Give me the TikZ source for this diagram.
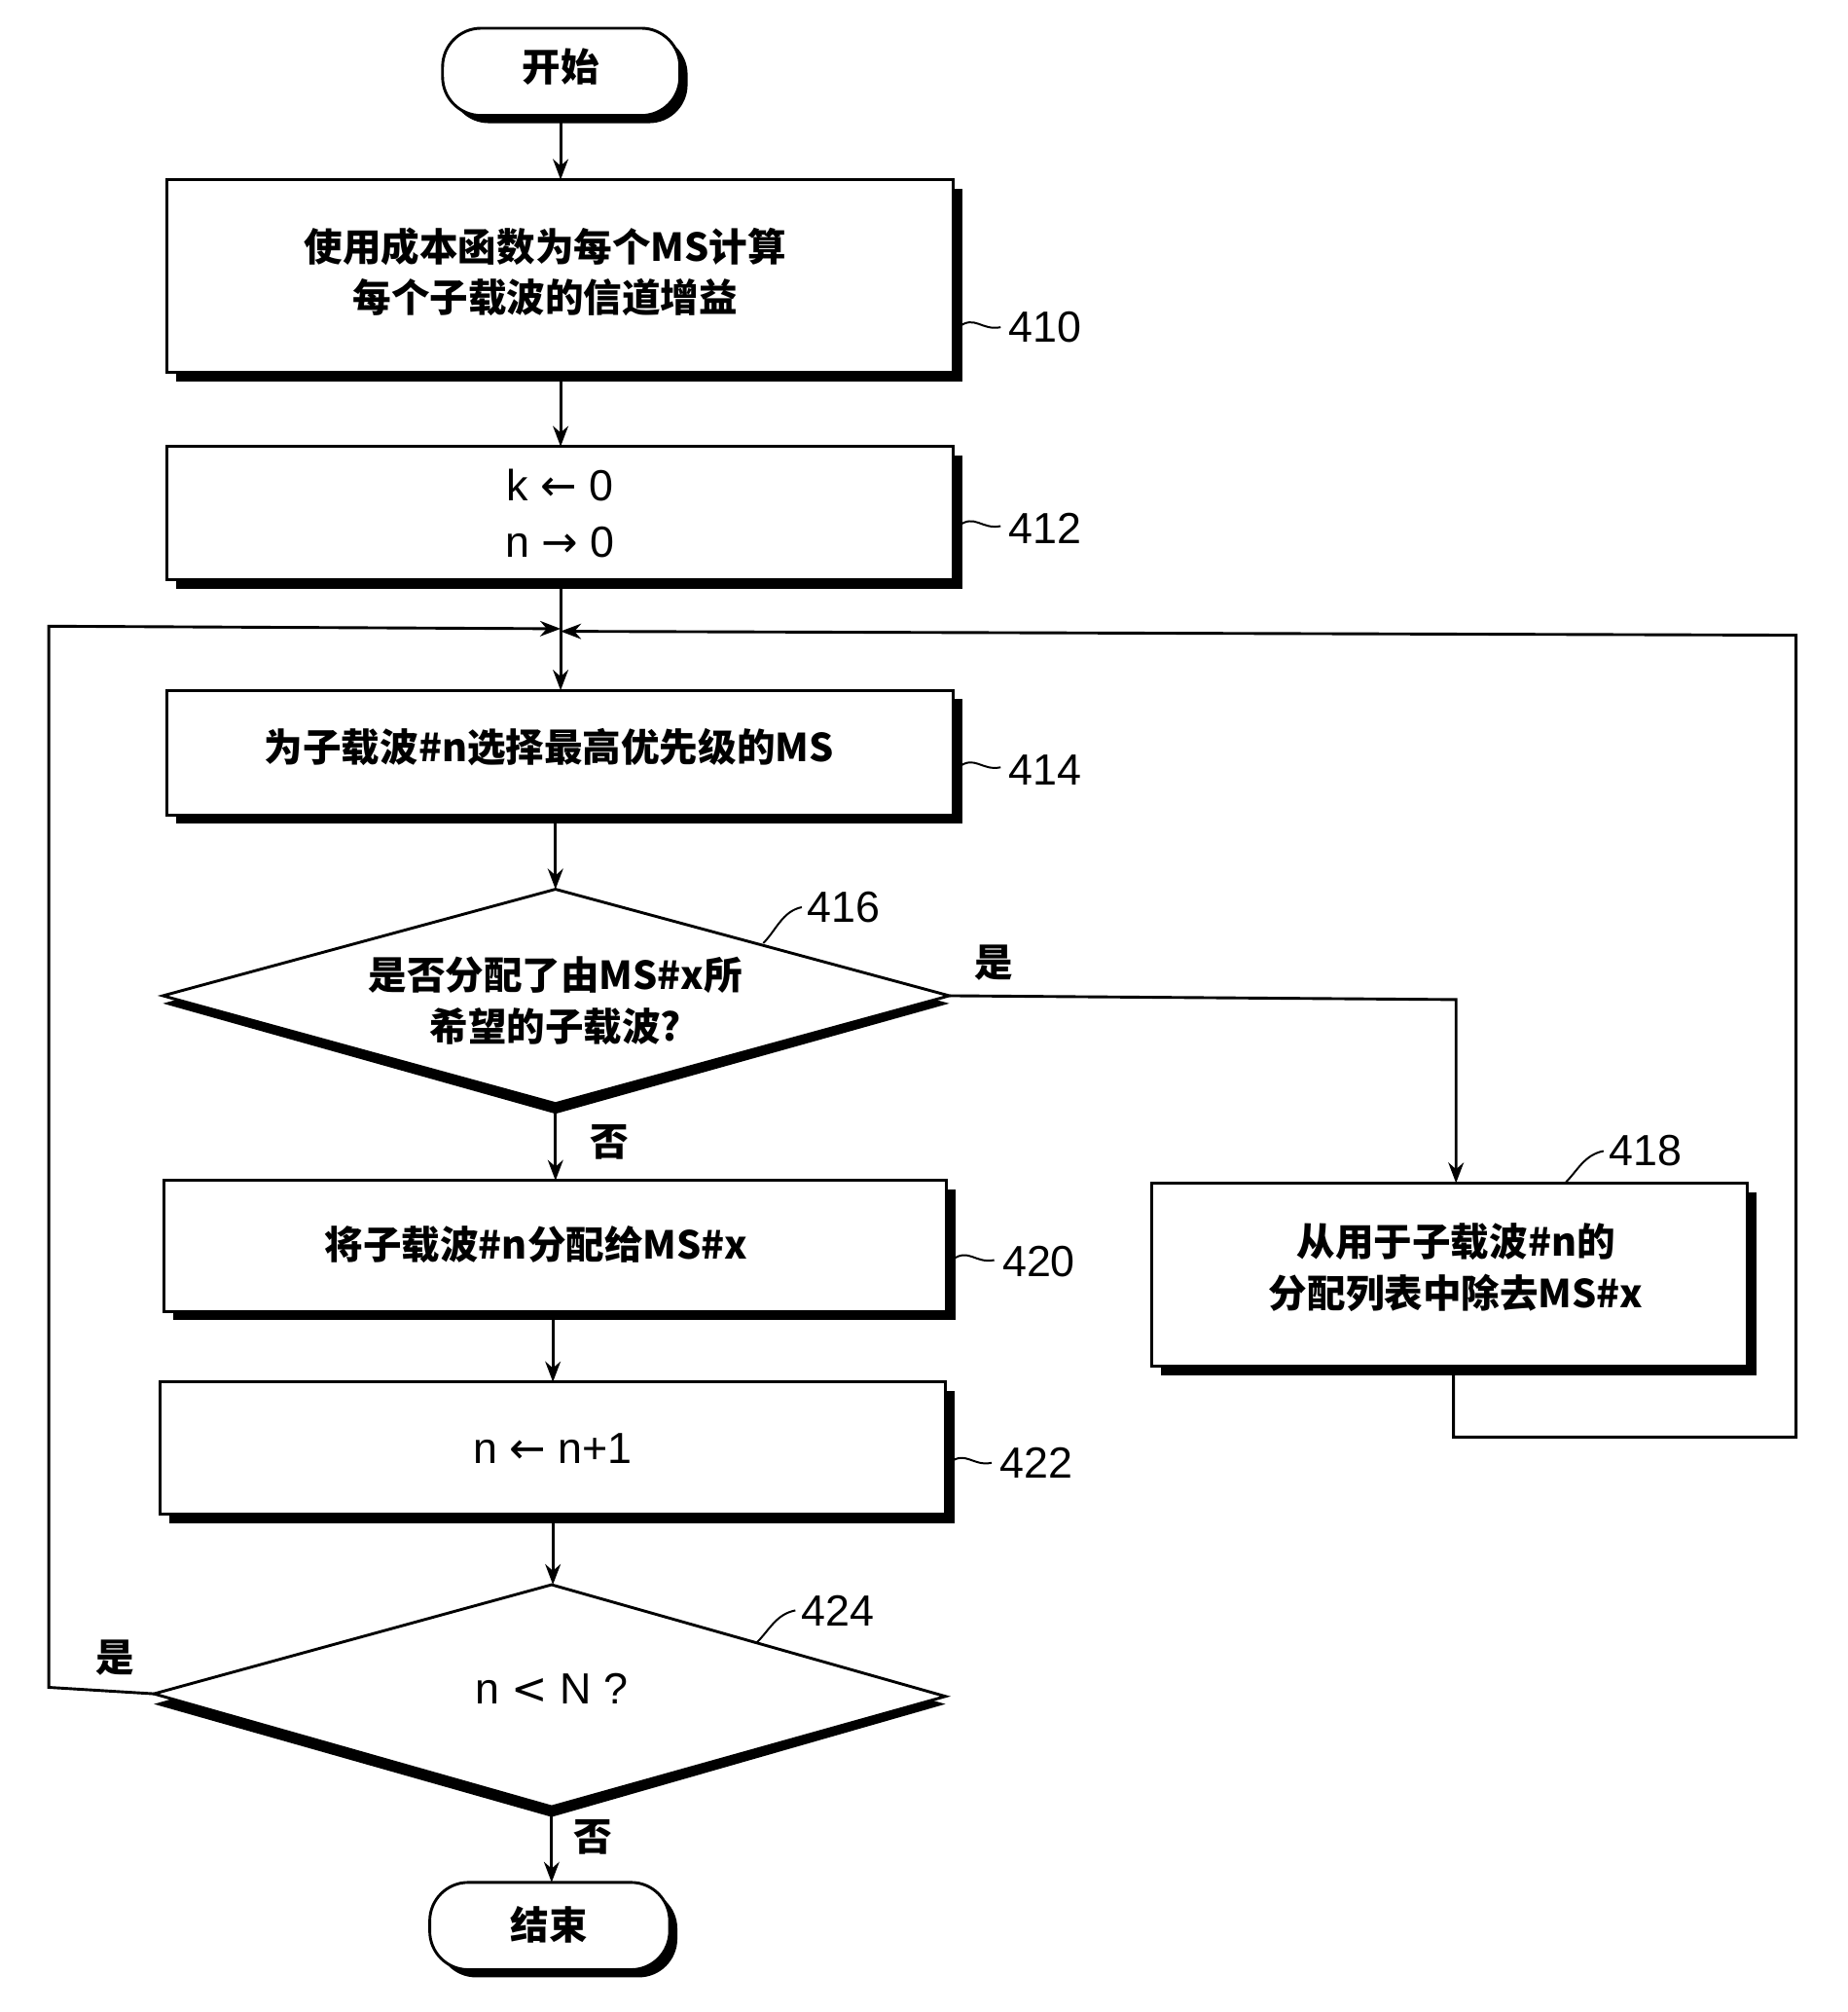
\documentclass[tikz,border=0pt]{standalone}
\usepackage{fontspec}
\setmainfont{Liberation Sans}
\newfontfamily\cjk{Noto Sans CJK SC}
\newfontfamily\symf{DejaVu Sans}
\usetikzlibrary{arrows.meta}
\begin{document}
\begin{tikzpicture}[x=1pt,y=-1pt,
  line width=2.2pt,
  ar/.style={-{Stealth[length=16pt,width=12pt]}},
  txt/.style={font=\cjk\bfseries\fontsize{30}{40}\selectfont,align=center},
  num/.style={font=\fontsize{34}{40}\selectfont},
  sh/.style={fill=black}]
\useasboundingbox (0,0) rectangle (1440,1568);
\newcommand\shbox[5]{% x1 y1 x2 y2 name
  \fill (#1+7,#2+7) rectangle (#3+7,#4+7);
  \draw[fill=white] (#1,#2) rectangle (#3,#4);
  \coordinate (#5) at ({(#1+#3)/2},{(#2+#4)/2});}
% start / end
\fill[rounded corners=30pt] (351,28) rectangle (536,96);
\draw[fill=white,rounded corners=30pt] (345,22) rectangle (530,90);
\node[txt] (start) at (437,52) {开始};
\fill[rounded corners=30pt] (341,1473) rectangle (528,1541);
\draw[fill=white,rounded corners=30pt] (335,1467) rectangle (522,1535);
\node[txt] (end) at (428,1500) {结束};
% boxes
\shbox{130}{140}{743}{290}{b410}
\node[txt] (t410) at (425,212) {使用成本函数为每个MS计算\\每个子载波的信道增益};
\shbox{130}{348}{743}{452}{b412}
\node[font=\fontsize{34}{44}\selectfont,align=center] (t412) at (b412) {k {\symf ←} 0\\n {\symf →} 0};
\shbox{130}{538}{743}{635}{b414}
\node[txt] (t414) at (428,582) {为子载波\#n选择最高优先级的MS};
\shbox{128}{920}{738}{1022}{b420}
\node[txt] (t420) at (418,970) {将子载波\#n分配给MS\#x};
\shbox{125}{1077}{737}{1180}{b422}
\node[font=\fontsize{34}{40}\selectfont] (t422) at (b422) {n {\symf ←} n+1};
\shbox{898}{922}{1362}{1065}{b418}
\node[txt] (t418) at (1135,988) {从用于子载波\#n的\\分配列表中除去MS\#x};
% diamonds
\fill (127,782) -- (433,699) -- (740,782) -- (433,868) -- cycle;
\draw[fill=white] (127,776) coordinate (d416l) -- (433,693) -- (740,776) coordinate (d416r) -- (433,860) coordinate (d416b) -- cycle;
\node[txt] (t416) at (433,780) {是否分配了由MS\#x所\\希望的子载波?};
\fill (120,1328) -- (430,1241) -- (737,1328) -- (430,1416) -- cycle;
\draw[fill=white] (120,1320) coordinate (d424l) -- (430,1235) coordinate (d424t) -- (737,1322) -- (430,1408) coordinate (d424b) -- cycle;
\node[font=\fontsize{34}{40}\selectfont] (t424) at (430,1316) {n {\symf <} N ?};
% junction
\coordinate (j) at (437,490);
\draw[ar] (437,90) -- (437,140);
\draw[ar] (437,297) -- (437,348);
\draw (437,459) -- (j);
\draw[ar] (j) -- (437,538);
\draw[ar] (433,642) -- (433,693);
\draw[ar] (433,862) -- (433,920);
\draw[ar] (431,1029) -- (431,1077);
\draw[ar] (431,1187) -- (431,1235);
\draw[ar] (430,1410) -- (430,1467);
\draw[ar] (d416r) -- (1135,779) -- (1135,922);
\draw[ar] (1133,1072) -- (1133,1120) -- (1400,1120) -- (1400,495) -- (437,492);
\draw[ar] (d424l) -- (38,1315) -- (38,488) -- (437,490);
% labels
\node[txt] at (475,890) {否};
\node[txt] at (775,750) {是};
\node[txt] at (90,1292) {是};
\node[txt] at (462,1432) {否};
\draw[line width=1.5pt] (747,255) .. controls (760,245) and (765,258) .. (780,255);
\node[num,anchor=west] at (782,255) {410};
\draw[line width=1.5pt] (747,410) .. controls (760,400) and (765,413) .. (780,410);
\node[num,anchor=west] at (782,412) {412};
\draw[line width=1.5pt] (747,598) .. controls (760,588) and (765,601) .. (780,598);
\node[num,anchor=west] at (782,600) {414};
\draw[line width=1.5pt] (742,982) .. controls (755,972) and (760,985) .. (775,982);
\node[num,anchor=west] at (777,983) {420};
\draw[line width=1.5pt] (740,1140) .. controls (753,1130) and (758,1143) .. (773,1140);
\node[num,anchor=west] at (775,1140) {422};
\draw[line width=1.5pt] (595,735) .. controls (605,725) and (610,710) .. (625,707);
\node[num,anchor=west] at (625,707) {416};
\draw[line width=1.5pt] (590,1280) .. controls (600,1270) and (605,1258) .. (620,1255);
\node[num,anchor=west] at (620,1255) {424};
\draw[line width=1.5pt] (1220,922) .. controls (1230,912) and (1235,900) .. (1250,897);
\node[num,anchor=west] at (1250,897) {418};
\end{tikzpicture}
\end{document}
